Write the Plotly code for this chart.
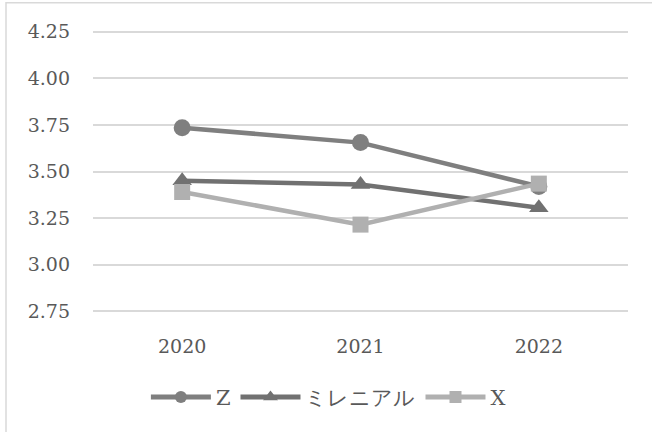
import plotly.graph_objects as go

years = ["2020", "2021", "2022"]
z_vals = [3.735, 3.655, 3.42]
mil_vals = [3.45, 3.43, 3.305]
x_vals = [3.39, 3.215, 3.435]
y_ticks = [2.75, 3.00, 3.25, 3.50, 3.75, 4.00, 4.25]
y_tick_text = ["2.75", "3.00", "3.25", "3.50", "3.75", "4.00", "4.25"]

series = [
    ("Z", z_vals, "#7f7f7f", "circle", 17, 12),
    ("ミレニアル", mil_vals, "#717171", "triangle-up", 17, 13),
    ("X", x_vals, "#b0b0b0", "square", 16, 12),
]

fig = go.Figure()
for name, vals, color, sym, size, lsize in series:
    fig.add_trace(go.Scatter(
        x=years, y=vals, name=name, mode="lines+markers",
        line=dict(color=color, width=4.5),
        marker=dict(symbol=sym, size=size, color=color),
        showlegend=False,
    ))
for name, vals, color, sym, size, lsize in series:
    fig.add_trace(go.Scatter(
        x=[None], y=[None], name=name, mode="lines+markers",
        line=dict(color=color, width=5),
        marker=dict(symbol=sym, size=lsize, color=color),
        showlegend=True,
    ))

FONT = "'DejaVu Serif', 'Liberation Serif', serif"
fig.update_layout(
    width=652, height=432,
    margin=dict(l=93, r=24, t=28.3, b=117.3),
    paper_bgcolor="white", plot_bgcolor="white",
    font=dict(family=FONT, size=19, color="#595959"),
    showlegend=True,
    legend=dict(orientation="h", x=0.44, xanchor="center", y=-0.287, yanchor="middle",
                itemwidth=60, font=dict(family=FONT, size=21, color="#595959")),
    shapes=[dict(type="rect", xref="paper", yref="paper",
                 x0=-0.1626, x1=1.06, y0=-0.46, y1=1.088,
                 line=dict(color="#d9d9d9", width=1.5), layer="below")],
)
fig.update_xaxes(type="category", showgrid=False, showline=False, zeroline=False,
                 ticks="", ticklabelstandoff=18, range=[-0.5, 2.5])
fig.update_yaxes(range=[2.73, 4.27], tickvals=y_ticks, ticktext=y_tick_text,
                 showgrid=True, gridcolor="#d9d9d9", gridwidth=1.5,
                 zeroline=False, showline=False, ticks="", ticklabelstandoff=22)

fig.write_html("out.html")
